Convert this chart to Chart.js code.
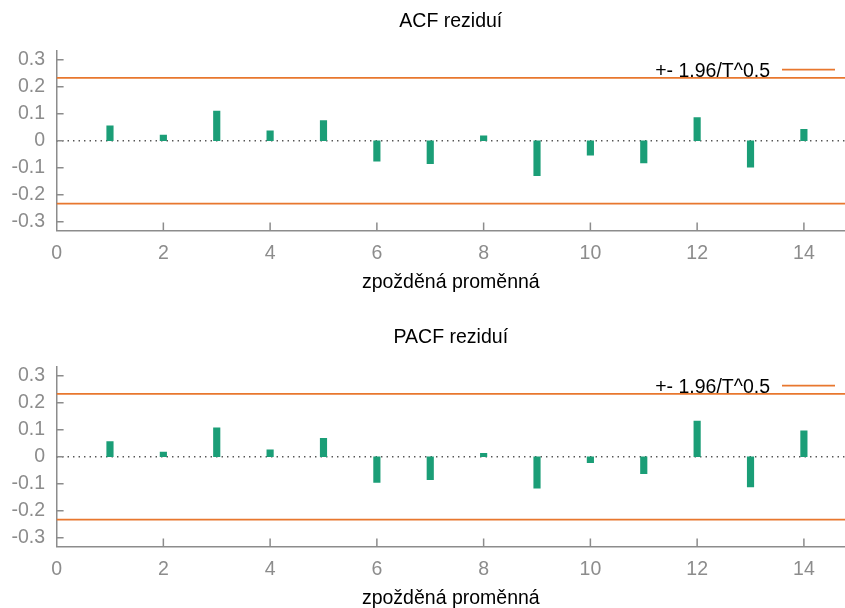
<!DOCTYPE html>
<html>
<head>
<meta charset="utf-8">
<script src="https://cdn.jsdelivr.net/npm/chart.js@4"></script>
<style>
  html, body { margin: 0; padding: 0; background: #fff; overflow: hidden; }
  .panel { position: absolute; left: 0; }
</style>
</head>
<body>
<canvas id="acfChart" class="panel" width="845" height="317" style="top:0"></canvas>
<canvas id="pacfChart" class="panel" width="845" height="317" style="top:316px"></canvas>
<script>
// lags and the two correlograms
const lags = [1, 2, 3, 4, 5, 6, 7, 8, 9, 10, 11, 12, 13, 14];
const acfValues = [0.055, 0.021, 0.110, 0.037, 0.075, -0.076, -0.085, 0.018, -0.129, -0.053, -0.082, 0.086, -0.098, 0.042];
const pacfValues = [0.056, 0.017, 0.107, 0.026, 0.068, -0.095, -0.085, 0.013, -0.116, -0.022, -0.063, 0.132, -0.112, 0.096];
const bandValue = 0.233;   // 1.96/sqrt(T)
const legendLabel = "+- 1.96/T^0.5";

const xTickValues = [0, 2, 4, 6, 8, 10, 12, 14];
const yTickValues = [-0.3, -0.2, -0.1, 0, 0.1, 0.2, 0.3];
const xMax = 14.77;   // plot runs up to the right edge of the image
const yLimit = 0.332;

const barColor = "#1b9e77";
const bandColor = "#e8772e";
const axisColor = "#8c8c8c";
const fontFamily = "'Liberation Sans', Arial, sans-serif";
const fontSize = 19.5;

// gnuplot-like inner tick marks plus the in-plot key
const gnuplotDecor = {
    id: "gnuplotDecor",
    afterDatasetsDraw(chart) {
        const { ctx, chartArea, scales } = chart;
        const x = scales.x, y = scales.y;
        ctx.save();
        ctx.strokeStyle = axisColor;
        ctx.lineWidth = 1.5;
        ctx.beginPath();
        yTickValues.forEach(v => {
            const py = y.getPixelForValue(v);
            ctx.moveTo(chartArea.left, py);
            ctx.lineTo(chartArea.left + 7, py);
        });
        xTickValues.forEach(v => {
            if (v === 0) return;
            const px = x.getPixelForValue(v);
            ctx.moveTo(px, chartArea.bottom);
            ctx.lineTo(px, chartArea.bottom - 8);
        });
        ctx.stroke();

        ctx.font = fontSize + "px " + fontFamily;
        ctx.fillStyle = "#000";
        ctx.textAlign = "right";
        ctx.textBaseline = "alphabetic";
        ctx.fillText(legendLabel, chartArea.right - 75, chartArea.top + 26);
        ctx.strokeStyle = bandColor;
        ctx.lineWidth = 1.6;
        ctx.beginPath();
        ctx.moveTo(chartArea.right - 63, chartArea.top + 18.5);
        ctx.lineTo(chartArea.right - 10, chartArea.top + 18.5);
        ctx.stroke();
        ctx.restore();
    }
};

function makeChart(canvasId, titleText, values) {
    const ctx = document.getElementById(canvasId).getContext("2d");
    return new Chart(ctx, {
        type: "bar",
        data: {
            datasets: [
                {
                    type: "bar",
                    data: lags.map((lag, i) => ({ x: lag, y: values[i] })),
                    backgroundColor: barColor,
                    barThickness: 6.5,
                    order: 0
                },
                {
                    type: "line",
                    data: [{ x: 0, y: bandValue }, { x: xMax, y: bandValue }],
                    borderColor: bandColor,
                    borderWidth: 1.6,
                    pointRadius: 0,
                    order: 2
                },
                {
                    type: "line",
                    data: [{ x: 0, y: -bandValue }, { x: xMax, y: -bandValue }],
                    borderColor: bandColor,
                    borderWidth: 1.6,
                    pointRadius: 0,
                    order: 2
                },
                {
                    type: "line",
                    data: [{ x: 0, y: 0 }, { x: xMax, y: 0 }],
                    borderColor: "#444",
                    borderWidth: 1.3,
                    borderDash: [1.3, 4.2],
                    pointRadius: 0,
                    order: 1
                }
            ]
        },
        options: {
            responsive: false,
            animation: false,
            layout: {
                padding: { left: 0, right: 0, top: 0, bottom: 0 }
            },
            plugins: {
                legend: { display: false },
                tooltip: { enabled: false },
                title: {
                    display: true,
                    fullSize: false,
                    text: titleText,
                    color: "#000",
                    font: { family: fontFamily, size: fontSize, weight: "normal" },
                    padding: { top: 10.2, bottom: 17.5 }
                }
            },
            scales: {
                x: {
                    type: "linear",
                    min: 0,
                    max: xMax,
                    offset: false,
                    grid: { display: false, drawTicks: false, tickLength: 0 },
                    border: { display: true, color: axisColor, width: 1.5 },
                    afterBuildTicks: scale => {
                        scale.ticks = xTickValues.map(v => ({ value: v }));
                    },
                    ticks: {
                        color: axisColor,
                        padding: 11.9,
                        maxRotation: 0,
                        autoSkip: false,
                        font: { family: fontFamily, size: fontSize }
                    },
                    title: {
                        display: true,
                        text: "zpožděná proměnná",
                        color: "#000",
                        font: { family: fontFamily, size: fontSize },
                        padding: { top: -7, bottom: 23 }
                    }
                },
                y: {
                    min: -yLimit,
                    max: yLimit,
                    grid: { display: false, drawTicks: false, tickLength: 0 },
                    border: { display: true, color: axisColor, width: 1.5 },
                    afterBuildTicks: scale => {
                        scale.ticks = yTickValues.map(v => ({ value: v }));
                    },
                    ticks: {
                        color: axisColor,
                        padding: 11.5,
                        font: { family: fontFamily, size: fontSize },
                        callback: v => String(Math.round(v * 10) / 10)
                    }
                }
            }
        },
        plugins: [gnuplotDecor]
    });
}

makeChart("acfChart", "ACF reziduí", acfValues);
makeChart("pacfChart", "PACF reziduí", pacfValues);
</script>
</body>
</html>
